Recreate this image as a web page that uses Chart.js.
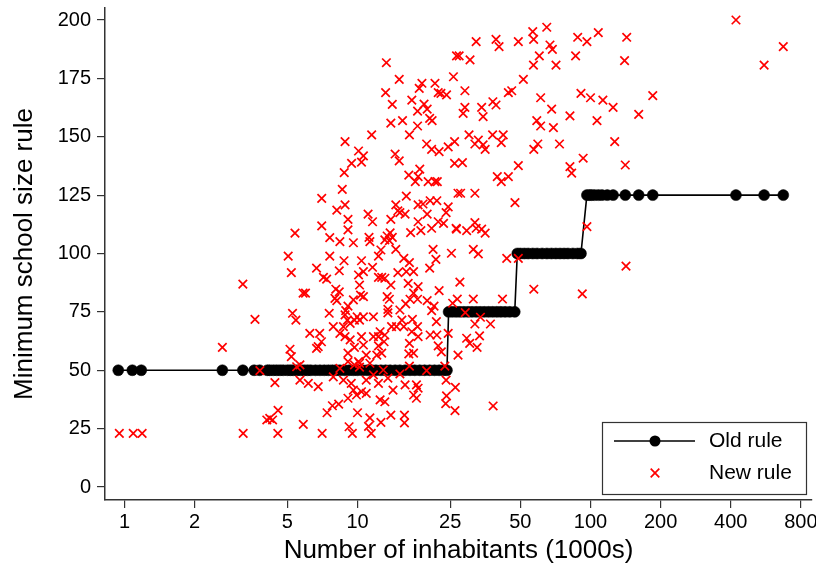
<!DOCTYPE html>
<html>
<head>
<meta charset="utf-8">
<script src="https://cdn.jsdelivr.net/npm/chart.js@4.4.1/dist/chart.umd.min.js"></script>
<style>
  html, body { margin: 0; padding: 0; background: #fff; }
</style>
</head>
<body>
<canvas id="chart" width="816" height="574"></canvas>
<script>
// Ticks
const xTicks = [1, 2, 5, 10, 25, 50, 100, 200, 400, 800];
const yTicks = [0, 25, 50, 75, 100, 125, 150, 175, 200];

// Old rule: [inhabitants (1000s), minimum school size]
const oldRulePoints = [
  [0.94, 50], [1.08, 50], [1.18, 50], [2.63, 50], [3.22, 50], [3.6, 50], [3.8, 50],
  [4.1, 50], [4.2, 50], [4.35, 50], [4.5, 50], [4.65, 50], [4.8, 50], [5.0, 50],
  [5.15, 50], [5.3, 50], [5.5, 50], [5.7, 50], [5.9, 50], [6.1, 50], [6.3, 50],
  [6.6, 50], [6.9, 50], [7.2, 50], [7.5, 50], [7.8, 50], [8.1, 50], [8.4, 50],
  [8.8, 50], [9.2, 50], [9.6, 50], [10, 50], [10.5, 50], [11, 50], [11.5, 50],
  [12, 50], [12.6, 50], [13.2, 50], [13.8, 50], [14.5, 50], [15.2, 50], [16, 50],
  [16.8, 50], [17.6, 50], [18.5, 50], [19.4, 50], [20.4, 50], [21.4, 50], [22.4, 50],
  [23.4, 50], [24.2, 50],
  [24.6, 75], [25.5, 75], [26.5, 75], [27.5, 75], [28.6, 75], [29.8, 75], [31, 75],
  [32.3, 75], [33.6, 75], [35, 75], [36.5, 75], [38, 75], [39.6, 75], [41.2, 75],
  [43, 75], [45, 75], [47.3, 75],
  [48.5, 100], [50, 100], [52, 100], [54, 100], [56.5, 100], [59, 100], [62, 100],
  [65, 100], [68, 100], [71, 100], [74, 100], [77, 100], [80, 100], [84, 100],
  [88, 100], [91, 100],
  [96.5, 125], [99, 125], [101, 125], [104, 125], [108, 125], [112, 125], [118, 125],
  [125, 125], [141, 125], [161, 125], [185, 125], [421, 125], [556, 125], [672, 125]
];

// New rule: [inhabitants (1000s), minimum school size]
const newRulePoints = [
  // low values
  [0.95, 23], [1.09, 23], [1.19, 23], [3.23, 23], [4.55, 23], [7.05, 23], [9.5, 23], [11.45, 23],
  [4.08, 28.7], [4.2, 29.4], [4.32, 28.7], [4.56, 32.8], [5.85, 26.8], [7.4, 31.8], [7.8, 34.8],
  [8.3, 35.5], [9.2, 25.8], [10.0, 31.8], [11.15, 26], [11.3, 29.6], [12.6, 27.7], [13.9, 30.8],
  [15.9, 30.8], [15.9, 27.5], [23.9, 35.7], [24.1, 39], [26.2, 32.7], [38.2, 34.7],
  [12.5, 37.3], [13.1, 36.5], [9.1, 38.0], [9.9, 39.4], [10.9, 40.1], [10.4, 40.8], [9.6, 41.5],
  [14.2, 41.5], [17.4, 39.4], [17.9, 38.0],
  // small towns
  [5.04, 98.9], [7.6, 98.9], [5.2, 91.8], [3.22, 86.9], [3.63, 71.8], [2.63, 59.8], [6.67, 93.7],
  [7.14, 89.8], [7.37, 89.0], [5.84, 83.0], [5.98, 83.0], [5.26, 74.4], [5.44, 71.5], [6.24, 65.8],
  [6.88, 65.8], [7.0, 62.2], [6.78, 60.1], [6.67, 59.4], [7.56, 74.4], [5.13, 59.0], [5.2, 55.8],
  [5.66, 52.3], [5.48, 51.5], [3.81, 49.8], [4.42, 44.7], [5.66, 45.8], [6.15, 44.4], [6.78, 43.0],
  [7.02, 123.6], [7.02, 111.8], [7.6, 106.8], [5.39, 108.7],
  // upper middle
  [13.3, 181.7], [15.1, 174.6], [25.8, 175.7], [13.2, 168.9], [18.9, 172.9], [18.4, 170.7],
  [21.5, 172.9], [22.2, 168.9], [22.8, 168.6], [24.1, 167.9], [14.1, 163.9], [17.1, 165.7],
  [19.3, 164], [18.1, 161], [19.9, 161.8], [20.4, 157.9], [20.9, 156.9], [13.9, 155.8],
  [15.6, 156.9], [18.1, 154.6], [16.7, 150.8], [11.5, 150.8], [8.84, 147.9], [10.1, 143.9],
  [10.6, 141.8], [10.4, 139.1], [9.43, 138.6], [8.77, 134.6], [8.6, 127.5], [14.5, 142.6],
  [15.1, 139.7], [19.8, 146.9], [20.8, 144.6], [22.4, 143.6], [24.5, 145.7], [26.1, 147.9],
  [26.1, 138.6], [16.6, 133.6], [18.5, 136.1], [18.2, 132.9], [17.7, 130.8], [20.1, 130.8],
  [21.5, 130.8], [22.0, 130.8],
  // middle
  [8.84, 120.8], [8.15, 118.6], [16.2, 124.6], [14.6, 120.8], [15.2, 117.5], [14.9, 118.3],
  [16.0, 116.9], [18.2, 120.8], [19.1, 121.2], [20.5, 122.6], [21.9, 122.6], [19.9, 116.9],
  [24.5, 120], [24.0, 117.5], [27.0, 125.8], [11.1, 116.9], [11.6, 113.6], [13.9, 114.6],
  [9.1, 114.6], [9.1, 110.1], [18.2, 113.6], [18.7, 109.8], [22.2, 113.6], [23.4, 112.9],
  [20.8, 110.8], [26.5, 110.8], [16.9, 108.9], [13.8, 108.8], [13.4, 107.5], [14.1, 106.9],
  [13.7, 105.5], [13.1, 105.8], [11.2, 106.9], [11.3, 105.1], [8.4, 105.1], [9.6, 104.6],
  [12.6, 101.5], [12.3, 98.9], [14.6, 101.8], [21.1, 101.8], [21.7, 97.5], [20.4, 93.7],
  [25.3, 100.1], [15.8, 97.9], [16.7, 96.1], [16.2, 92.2], [17.4, 92.2], [14.9, 91.8],
  [8.75, 96.9], [8.35, 92.6], [10.4, 96.9], [11.6, 94.1], [10.6, 92.2], [10.1, 90.8],
  [12.3, 89.8], [12.7, 89.8], [13.1, 89.4], [13.9, 86.5], [10.2, 86.5], [16.5, 87.2],
  [18.2, 85.8], [8.07, 84.7], [8.35, 83.6], [8.0, 80.8], [8.15, 79.8], [10.3, 82.2],
  [10.6, 81.5], [9.6, 80.1], [9.1, 77.5], [8.9, 75.5], [13.4, 81.5], [13.7, 80.4],
  [17.4, 83.0], [16.8, 80.4], [18.1, 80.4], [16.1, 78.4], [19.9, 79.8], [22.4, 84.1],
  [21.3, 77.5], [20.8, 75.5], [13.5, 76.1], [13.5, 74.6], [15.2, 75.8], [11.7, 72.9],
  [10.6, 72.9], [9.96, 72.9], [10.2, 71.5], [9.7, 71.5], [9.3, 70.1], [8.84, 73.7],
  [9.05, 71.5], [7.87, 68.7], [8.7, 68.7], [15.5, 71.5], [15.8, 68.7], [14.7, 68.7],
  [14.0, 68.7], [17.2, 71.8], [18.1, 68.7], [21.8, 70.8], [24.5, 65.8], [12.5, 66.5],
  [13.1, 65.1], [11.7, 64.4], [12.3, 64.4], [17.1, 66.5], [18.2, 64.4], [20.5, 65.1],
  [21.9, 65.1], [8.4, 65.8], [8.84, 64.4], [10.4, 64.4],
  // around the 50 line
  [9.3, 63.0], [10.6, 60.8], [9.7, 59.8], [13.0, 62.2], [12.3, 60.4], [12.1, 56.5],
  [12.7, 57.3], [16.7, 61.5], [16.6, 57.0], [17.4, 57.3], [22.2, 60.4], [9.1, 57.3],
  [9.1, 53.7], [10.2, 53.0], [10.1, 53.7], [10.9, 56.5], [11.3, 53.0], [8.4, 50.8],
  [9.7, 52.3], [10.2, 51.3], [12.9, 50.1], [15.2, 48.4], [16.7, 51.8], [19.8, 49.8],
  [23.7, 51.8], [7.87, 47.2], [8.7, 45.8], [9.4, 44.4], [10.9, 45.8], [11.7, 48.0],
  [12.3, 44.4], [13.5, 46.6], [16.0, 43.7], [17.9, 43.7], [18.2, 42.3], [24.0, 45.8],
  [26.3, 42.7],
  // larger towns
  [421, 200], [672, 188.6], [556, 180.7], [64.9, 196.9], [56.5, 195], [57, 191.7], [108, 194.6],
  [88.1, 192.6], [96.5, 190.7], [143, 192.6], [140, 182.6], [39.3, 191.7], [40.5, 188.6],
  [49, 190.7], [32.3, 190.7], [67, 189.3], [68.6, 187.4], [26.6, 184.6], [27.3, 184.6],
  [30.4, 182.9], [60.3, 184.6], [56.9, 180.7], [71.1, 180.7], [86.3, 184.6], [51.5, 174.6],
  [28.9, 169.7], [44.4, 168.9], [45.9, 169.7], [61.1, 166.7], [91, 168.6], [100, 166.7],
  [113, 165.7], [125, 162.6], [185, 167.6], [161, 159.6], [28.9, 162.6], [28.4, 160],
  [34.1, 162.6], [34.6, 158.6], [38.1, 165], [39.3, 163.6], [68.1, 161.8], [58.8, 156.9],
  [61.1, 154.6], [69.3, 153.9], [81.6, 158.9], [106.6, 156.9], [30.1, 150.8], [33, 148.6],
  [31.9, 146.9], [34.6, 146.5], [35.3, 144.6], [38, 150.8], [42.2, 150.8], [41.4, 147.5],
  [59.4, 146.9], [57.1, 144.6], [73.6, 146.9], [127, 147.9], [28.2, 138.9], [49, 137.6],
  [93, 140.8], [81.6, 137.2], [83, 134.4], [141, 137.9], [39.8, 132.9], [41.4, 130.8],
  [44.4, 132.9], [27.7, 125.8], [31.9, 125.8], [47.4, 121.8], [26.6, 110.4], [29.4, 109.8],
  [31.9, 113.2], [32.3, 110.8], [34.1, 110.4], [35.3, 108.7], [31.4, 101.8], [33, 99.8],
  [96.5, 111.5], [43.7, 97.9], [49, 97.9],
  [142, 94.6], [27.5, 87.7], [57.1, 84.7], [92.2, 82.7], [26.8, 80.5], [25.6, 78.7],
  [31.4, 80.5], [41.9, 80.5], [29, 74.7], [33.7, 72.7], [31.9, 69.8], [37.2, 69.8],
  [29.4, 63.7], [30.3, 61.5], [33.4, 64.7], [32.6, 59.8], [22.9, 57.9], [27, 56.5]
];

const FONT = "'Liberation Sans', Arial, Helvetica, sans-serif";

// legend drawn inside the plot, bottom right
const boxLegend = {
  id: 'boxLegend',
  afterDraw(chart) {
    const ctx = chart.ctx;
    const a = chart.chartArea;
    const x1 = a.right - 210, y1 = a.bottom - 78;
    const w = 204, h = 72;
    ctx.save();
    ctx.fillStyle = '#fff';
    ctx.fillRect(x1, y1, w, h);
    ctx.strokeStyle = '#333';
    ctx.lineWidth = 1.2;
    ctx.strokeRect(x1 + 0.5, y1 + 0.5, w, h);

    const r1 = y1 + 19, r2 = y1 + 51;
    const mx = x1 + 53;
    ctx.strokeStyle = '#000';
    ctx.lineWidth = 1.6;
    ctx.beginPath();
    ctx.moveTo(x1 + 12, r1);
    ctx.lineTo(x1 + 93, r1);
    ctx.stroke();
    ctx.fillStyle = '#000';
    ctx.beginPath();
    ctx.arc(mx, r1, 5.5, 0, Math.PI * 2);
    ctx.fill();

    ctx.strokeStyle = '#ff0000';
    ctx.lineWidth = 1.7;
    const d = 4.3;
    ctx.beginPath();
    ctx.moveTo(mx - d, r2 - d); ctx.lineTo(mx + d, r2 + d);
    ctx.moveTo(mx - d, r2 + d); ctx.lineTo(mx + d, r2 - d);
    ctx.stroke();

    ctx.fillStyle = '#000';
    ctx.font = '21px ' + FONT;
    ctx.textBaseline = 'middle';
    ctx.textAlign = 'left';
    ctx.fillText('Old rule', x1 + 107, r1);
    ctx.fillText('New rule', x1 + 107, r2);
    ctx.restore();
  }
};

const ctx = document.getElementById('chart').getContext('2d');
new Chart(ctx, {
  type: 'scatter',
  data: {
    datasets: [
      {
        label: 'New rule',
        data: newRulePoints.map(p => ({ x: p[0], y: p[1] })),
        pointStyle: 'crossRot',
        pointRadius: 6,
        pointBorderWidth: 1.7,
        borderColor: '#ff0000',
        backgroundColor: '#ff0000',
        order: 0
      },
      {
        label: 'Old rule',
        data: oldRulePoints.map(p => ({ x: p[0], y: p[1] })),
        showLine: true,
        borderColor: '#000',
        borderWidth: 1.6,
        pointStyle: 'circle',
        pointRadius: 5.5,
        pointBackgroundColor: '#000',
        pointBorderColor: '#000',
        pointBorderWidth: 0.5,
        order: 1
      }
    ]
  },
  options: {
    responsive: false,
    animation: false,
    devicePixelRatio: 1,
    layout: { autoPadding: false, padding: { top: 8, right: 4, left: 0, bottom: 0 } },
    plugins: { legend: { display: false }, tooltip: { enabled: false } },
    scales: {
      x: {
        type: 'logarithmic',
        min: 0.8245,
        max: 892.6,
        afterBuildTicks: s => { s.ticks = xTicks.map(v => ({ value: v })); },
        afterFit: s => { s.height = 74; s.paddingLeft = 0; s.paddingRight = 0; },
        ticks: {
          callback: v => String(v),
          autoSkip: false,
          maxRotation: 0,
          color: '#000',
          font: { family: FONT, size: 20 },
          padding: 2
        },
        grid: { drawOnChartArea: false, drawTicks: true, tickLength: 8, color: '#333', lineWidth: 1.2 },
        border: { display: true, color: '#333', width: 1.5 },
        title: {
          display: true,
          text: 'Number of inhabitants (1000s)',
          color: '#000',
          font: { family: FONT, size: 26 },
          padding: { top: 0, bottom: 7.5 }
        }
      },
      y: {
        min: -5.57,
        max: 205.14,
        afterBuildTicks: s => { s.ticks = yTicks.map(v => ({ value: v })); },
        afterFit: s => { s.width = 105; s.paddingTop = 0; s.paddingBottom = 0; },
        ticks: {
          color: '#000',
          font: { family: FONT, size: 20 },
          padding: 6
        },
        grid: { drawOnChartArea: false, drawTicks: true, tickLength: 8, color: '#333', lineWidth: 1.2 },
        border: { display: true, color: '#333', width: 1.5 },
        title: {
          display: true,
          text: 'Minimum school size rule',
          color: '#000',
          font: { family: FONT, size: 26 },
          padding: { top: 9.5, bottom: 0 }
        }
      }
    }
  },
  plugins: [boxLegend]
});
</script>
</body>
</html>
